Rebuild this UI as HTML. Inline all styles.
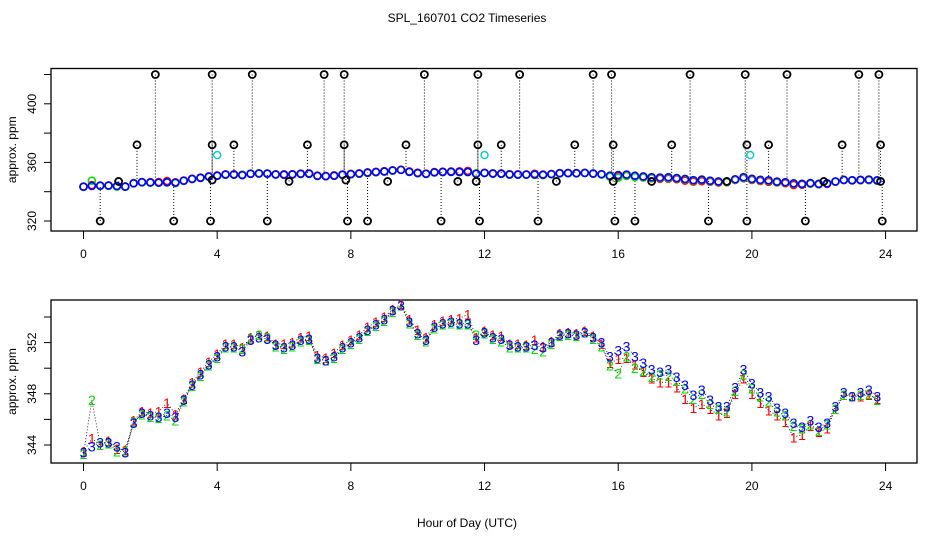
<!DOCTYPE html>
<html><head><meta charset="utf-8">
<style>
html,body{margin:0;padding:0;background:#fff;}
svg{display:block;font-family:"Liberation Sans",sans-serif;}
</style></head>
<body>
<svg id="c" width="936" height="540" xmlns="http://www.w3.org/2000/svg"></svg>
<script>
const hours = [];
for (let i = 0; i < 96; i++) hours.push(i * 0.25);
const series3 = [343.4,343.9,344.2,344.2, 343.9,343.4,345.7,346.5, 346.3,346.2,346.5,346.2, 347.5,348.7,349.5,350.3, 350.9,351.7,351.7,351.3, 352.2,352.4,352.3,351.8, 351.6,351.8,352.2,352.3, 350.8,350.6,350.9,351.6, 352.0,352.4,353.0,353.4, 353.8,354.5,354.9,353.6, 352.7,352.2,353.2,353.5, 353.6,353.5,353.5,352.2, 352.8,352.4,352.3,351.8, 351.7,351.7,351.8,351.6, 352.0,352.6,352.7,352.6, 352.8,352.4,352.0,350.9, 351.4,351.7,350.9,350.4, 349.9,349.7,349.9,349.3, 348.7,347.9,348.3,347.5, 347.0,347.0,348.5,349.9, 348.8,348.1,347.8,346.9, 346.5,345.7,345.4,345.9, 345.4,345.7,347.0,348.1, 347.8,348.1,348.3,347.8];
const series1 = [343.5,344.5,344.0,344.3, 343.7,343.6,345.9,346.6, 346.5,346.6,347.3,346.4, 347.6,348.9,349.7,350.5, 351.1,351.9,351.9,351.6, 352.4,352.6,352.5,351.9, 351.9,352.0,352.4,352.5, 351.0,350.8,351.2,351.8, 352.2,352.6,353.2,353.6, 354.0,354.6,355.0,353.8, 353.0,352.4,353.4,353.7, 353.8,353.9,354.2,352.4, 352.9,352.6,352.5,351.9, 351.9,351.8,352.2,351.7, 352.1,352.7,352.8,352.7, 352.9,352.5,351.9,350.4, 350.7,350.8,350.3,349.7, 349.2,348.9,348.9,348.5, 347.6,346.9,347.2,346.8, 346.3,346.5,348.0,349.2, 348.0,347.3,346.7,346.3, 345.8,344.6,344.8,345.5, 345.0,345.3,346.8,347.9, 347.8,347.8,347.9,347.6];
const series2 = [343.3,347.5,344.0,344.1, 343.5,343.5,345.8,346.4, 346.2,346.1,346.3,345.9, 347.4,348.6,349.4,350.2, 350.8,351.6,351.6,351.5, 352.3,352.6,352.4,351.7, 351.5,351.7,352.1,352.2, 350.7,350.6,350.8,351.5, 351.9,352.3,352.9,353.3, 353.7,354.4,354.9,353.5, 352.6,352.1,353.1,353.4, 353.5,353.4,353.4,352.6, 352.7,352.3,352.1,351.6, 351.6,351.6,351.5,351.3, 351.9,352.5,352.6,352.5, 352.8,352.3,351.7,350.2, 349.6,350.9,350.0,349.8, 349.3,349.5,349.4,349.0, 348.4,347.6,348.0,347.2, 346.8,346.6,348.2,349.5, 348.4,347.8,347.4,346.6, 346.3,345.5,345.3,345.6, 345.1,345.6,346.8,347.9, 347.8,347.9,348.0,347.5];
const outlierHours = [0.5,1.05,1.6,2.15,2.7,3.8,3.85,3.85,3.85,4.5,5.05,5.5,6.15,6.7,7.2,7.8,7.8,7.85,7.9,8.5,9.1,9.65,10.2,10.7,11.2,11.8,11.8,11.75,11.85,12.5,13.05,13.6,14.15,14.7,15.25,15.8,15.85,15.85,15.9,16.5,17.0,17.6,18.15,18.7,19.25,19.8,19.85,19.85,20.5,21.05,21.6,22.15,22.7,23.2,23.8,23.85,23.85,23.9];
const outlierValues = [320,347,372,420,320,320,420,372,348,372,420,320,347,372,420,420,372,348,320,320,347,372,420,320,347,420,372,347,320,372,420,320,347,372,420,420,372,347,320,320,347,372,420,320,347,420,372,320,372,420,320,347,372,420,420,372,347,320];
const cyanHours = [4.0, 12.0, 19.95];
const cyanValues = [365, 365, 365];
const xTicks = [0,4,8,12,16,20,24];
const topYTicks = [320,340,360,380,400,420];
const topYLabels = [320,360,400];
const botYTicks = [344,346,348,350,352,354];
const botYLabels = [344,348,352];

const NS = "http://www.w3.org/2000/svg";
const svg = document.getElementById('c');
function mk(tag, attrs, parent) {
  const e = document.createElementNS(NS, tag);
  for (const k in attrs) e.setAttribute(k, attrs[k]);
  (parent || svg).appendChild(e);
  return e;
}
const X = h => 83.5 + h * 33.42;
const Ytop = v => 221 - (v - 320) * 1.465;
const Ybot = v => 445 - (v - 344) * 12.8;
const L = 51, R = 917;

// title
let t = mk('text', {x: 467, y: 22, 'text-anchor': 'middle', 'font-size': 12});
t.textContent = 'SPL_160701  CO2 Timeseries';



function panel(name, top, bottom, Y, yTicks, yLabels) {
  const g = mk('g', {});
  
  
  const box = mk('rect', {x: L, y: top, width: R - L, height: bottom - top, fill: 'none', stroke: '#000', 'stroke-width': 1.3}, g);
  
  
  const xa = mk('g', {}, g);
  
  
  xTicks.forEach(h => {
    mk('line', {x1: X(h), x2: X(h), y1: bottom, y2: bottom + 8, stroke: '#000'}, xa);
    const tl = mk('text', {x: X(h), y: bottom + 27, 'text-anchor': 'middle', 'font-size': 12}, xa);
    tl.textContent = h;
    
    
  });
  const ya = mk('g', {}, g);
  
  
  yTicks.forEach(v => mk('line', {x1: L - 7, x2: L, y1: Y(v), y2: Y(v), stroke: '#000'}, ya));
  yLabels.forEach(v => {
    const tl = mk('text', {x: 0, y: 0, 'text-anchor': 'middle', 'font-size': 12, transform: `translate(36,${Y(v)}) rotate(-90)`}, ya);
    tl.textContent = v;
    
    
  });
  const yt = mk('text', {x: 0, y: 0, 'text-anchor': 'middle', 'font-size': 12, transform: `translate(16,${(top + bottom) / 2}) rotate(-90)`}, g);
  yt.textContent = 'approx. ppm';
  
  
  return g;
}

const g1 = panel('top-panel', 68.5, 231, Ytop, topYTicks, topYLabels);
const g2 = panel('bottom-panel', 300, 463, Ybot, botYTicks, botYLabels);

// top panel: outliers with dotted lines
function nearest(h) { return Math.min(95, Math.max(0, Math.round(h / 0.25))); }
outlierHours.forEach((h, i) => {
  const v = outlierValues[i];
  const base = series3[nearest(h)];
  const ln = mk('line', {x1: X(h), x2: X(h), y1: Ytop(v), y2: Ytop(base), stroke: '#000', 'stroke-dasharray': '1,2', 'stroke-width': 1}, g1);
  
  
});
const colors = ['#ff0000', '#00dd00', '#0000ff'];
const all = [series1, series2, series3];
all.forEach((s, k) => {
  const sg = mk('g', {}, g1);
  
  
  s.forEach((v, i) => {
    const c = mk('circle', {cx: X(hours[i]), cy: Ytop(v), r: 3.5, fill: 'none', stroke: colors[k], 'stroke-width': 1.6}, sg);
    
    
  });
});
outlierHours.forEach((h, i) => {
  const c = mk('circle', {cx: X(h), cy: Ytop(outlierValues[i]), r: 3.5, fill: 'none', stroke: '#000', 'stroke-width': 1.8}, g1);
  
  
});
cyanHours.forEach((h, i) => {
  const c = mk('circle', {cx: X(h), cy: Ytop(cyanValues[i]), r: 3.5, fill: 'none', stroke: '#00cccc', 'stroke-width': 1.4}, g1);
  
  
});

// bottom panel: dotted connector lines + digit markers
all.forEach((s, k) => {
  const pts = s.map((v, i) => X(hours[i]) + ',' + Ybot(v)).join(' ');
  const pl = mk('polyline', {points: pts, fill: 'none', stroke: '#000', 'stroke-dasharray': '1,2', 'stroke-width': 0.8}, g2);
  
  
});
all.forEach((s, k) => {
  const sg = mk('g', {}, g2);
  
  
  s.forEach((v, i) => {
    const tx = mk('text', {x: X(hours[i]), y: Ybot(v) + 5, 'text-anchor': 'middle', 'font-size': 14, fill: colors[k]}, sg);
    tx.textContent = String(k + 1);
    
    
  });
});

t = mk('text', {x: 467, y: 527, 'text-anchor': 'middle', 'font-size': 12});
t.textContent = 'Hour of Day (UTC)';


</script>
</body></html>
